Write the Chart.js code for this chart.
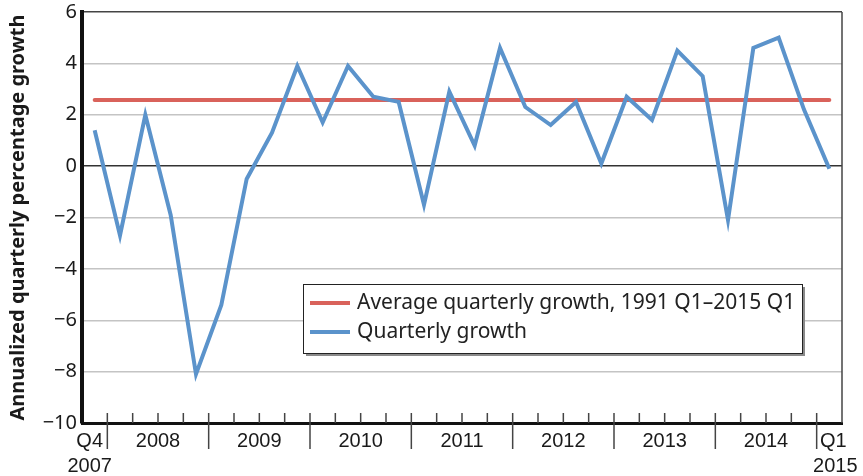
<!DOCTYPE html>
<html>
<head>
<meta charset="utf-8">
<script src="https://cdn.jsdelivr.net/npm/chart.js@4"></script>
<style>
  html, body { margin: 0; padding: 0; background: #fff; }
  #wrap { width: 863px; height: 476px; }
</style>
</head>
<body>
<div id="wrap"><canvas id="chart" width="863" height="476"></canvas></div>
<script>
// quarters from 2007 Q4 to 2015 Q1
const quarters = [
  "2007 Q4",
  "2008 Q1", "2008 Q2", "2008 Q3", "2008 Q4",
  "2009 Q1", "2009 Q2", "2009 Q3", "2009 Q4",
  "2010 Q1", "2010 Q2", "2010 Q3", "2010 Q4",
  "2011 Q1", "2011 Q2", "2011 Q3", "2011 Q4",
  "2012 Q1", "2012 Q2", "2012 Q3", "2012 Q4",
  "2013 Q1", "2013 Q2", "2013 Q3", "2013 Q4",
  "2014 Q1", "2014 Q2", "2014 Q3", "2014 Q4",
  "2015 Q1"
];

const quarterlyGrowth = [
  1.4,
  -2.7, 2.0, -1.9, -8.1,
  -5.4, -0.5, 1.3, 3.9,
  1.7, 3.9, 2.7, 2.5,
  -1.5, 2.9, 0.8, 4.6,
  2.3, 1.6, 2.5, 0.1,
  2.7, 1.8, 4.5, 3.5,
  -2.1, 4.6, 5.0, 2.2,
  -0.1
];

const averageGrowth = 2.57; // 1991 Q1-2015 Q1

const yearLabels = ["2008", "2009", "2010", "2011", "2012", "2013", "2014"];
const yTicks = [-10, -8, -6, -4, -2, 0, 2, 4, 6];

const blue = "#5b93cb";
const red = "#d9625b";

// x axis ticks + labels and the legend box
const decorPlugin = {
  id: "decor",
  afterDraw(chart) {
    const ctx = chart.ctx;
    const area = chart.chartArea;
    const x = chart.scales.x;
    const bottom = area.bottom;

    // right border
    ctx.save();
    ctx.strokeStyle = "#444";
    ctx.lineWidth = 1.5;
    ctx.beginPath();
    ctx.moveTo(area.right, area.top);
    ctx.lineTo(area.right, bottom);
    ctx.stroke();

    // tick marks between quarters
    const boundaries = [];
    for (let i = 1; i < quarters.length; i++) {
      const bx = (x.getPixelForValue(i - 1) + x.getPixelForValue(i)) / 2;
      const isYear = quarters[i].endsWith("Q1");
      boundaries.push({ bx, isYear });
      ctx.beginPath();
      ctx.moveTo(bx, bottom - 10);
      ctx.lineTo(bx, isYear ? bottom + 26 : bottom);
      ctx.stroke();
    }

    ctx.fillStyle = "#1a1a1a";
    ctx.font = "20px 'Liberation Sans', Arial, sans-serif";
    ctx.textAlign = "center";
    ctx.textBaseline = "alphabetic";

    const yearB = boundaries.filter(b => b.isYear).map(b => b.bx);
    yearLabels.forEach((label, k) => {
      ctx.fillText(label, (yearB[k] + yearB[k + 1]) / 2, bottom + 24);
    });

    const firstX = x.getPixelForValue(0);
    const lastX = x.getPixelForValue(quarters.length - 1);
    ctx.fillText("Q4", firstX - 5, bottom + 24);
    ctx.fillText("2007", firstX - 5, bottom + 49);
    ctx.fillText("Q1", lastX + 4, bottom + 24);
    ctx.fillText("2015", lastX + 6, bottom + 49);

    // legend
    const lx = area.left + 221, ly = area.top + 272, lw = 499, lh = 69;
    ctx.fillStyle = "#8a8a8a";
    ctx.fillRect(lx + 3, ly + 3, lw, lh);
    ctx.fillStyle = "#fff";
    ctx.fillRect(lx, ly, lw, lh);
    ctx.strokeStyle = "#222";
    ctx.lineWidth = 1;
    ctx.strokeRect(lx + 0.5, ly + 0.5, lw, lh);

    const items = chart.data.datasets.slice().sort((a, b) => b.order - a.order);
    ctx.font = "21px 'Noto Sans', sans-serif";
    ctx.textAlign = "left";
    ctx.textBaseline = "middle";
    items.forEach((ds, k) => {
      const yy = ly + 19 + k * 29;
      ctx.strokeStyle = ds.borderColor;
      ctx.lineWidth = 4;
      ctx.beginPath();
      ctx.moveTo(lx + 7, yy);
      ctx.lineTo(lx + 47, yy);
      ctx.stroke();
      ctx.fillStyle = "#222";
      ctx.fillText(ds.label, lx + 54, yy);
    });
    ctx.restore();
  }
};

new Chart(document.getElementById("chart"), {
  type: "line",
  data: {
    labels: quarters,
    datasets: [
      {
        label: "Quarterly growth",
        data: quarterlyGrowth,
        borderColor: blue,
        borderWidth: 4,
        pointRadius: 0,
        tension: 0,
        order: 0
      },
      {
        label: "Average quarterly growth, 1991 Q1\u20132015 Q1",
        data: quarters.map(() => averageGrowth),
        borderColor: red,
        borderWidth: 4,
        borderCapStyle: "round",
        pointRadius: 0,
        order: 1
      }
    ]
  },
  options: {
    responsive: false,
    animation: false,
    layout: { padding: { left: 0, right: 21, top: 0, bottom: 45 } },
    plugins: {
      legend: { display: false },
      tooltip: { enabled: false }
    },
    scales: {
      x: {
        offset: true,
        grid: { display: false },
        ticks: { display: false },
        border: { display: true, color: "#111", width: 3 }
      },
      y: {
        min: -10,
        max: 6,
        afterBuildTicks(scale) {
          scale.ticks = yTicks.map(v => ({ value: v }));
        },
        afterFit(scale) {
          scale.width = 82;
          scale.paddingTop = 12;
        },
        grid: {
          drawTicks: false,
          lineWidth: 1.5,
          color: ctx => {
            const v = ctx.tick.value;
            if (v === 0) return "#333";
            if (v === 6) return "#444";
            return "#c4c4c4";
          }
        },
        border: { display: true, color: "#111", width: 4 },
        ticks: {
          padding: 5,
          color: "#1a1a1a",
          font: { family: "'Noto Sans', sans-serif", size: 20 },
          callback: v => (v < 0 ? "\u2212" + Math.abs(v) : String(v))
        },
        title: {
          display: true,
          text: "Annualized quarterly percentage growth",
          color: "#1a1a1a",
          padding: { top: 6, bottom: 0 },
          font: { family: "'Noto Sans', sans-serif", size: 20, weight: "bold" }
        }
      }
    }
  },
  plugins: [decorPlugin]
});
</script>
</body>
</html>
